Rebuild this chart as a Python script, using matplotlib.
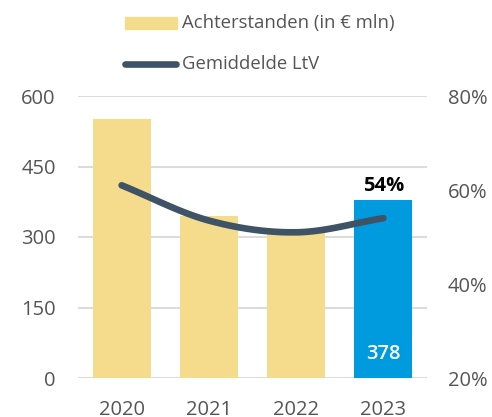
import numpy as np
import matplotlib
matplotlib.use("Agg")
import matplotlib.pyplot as plt
from matplotlib.patches import Rectangle
from matplotlib.lines import Line2D

years = ["2020", "2021", "2022", "2023"]
arrears = [551, 344, 310, 378]          # Achterstanden (in € mln)
ltv = [61, 53.5, 51, 54]                # Gemiddelde LtV (%)
left_ticks = [0, 150, 300, 450, 600]
right_ticks = [20, 40, 60, 80]

YELLOW = "#F5DC8C"
BLUE = "#009BDE"
LINE = "#3F5366"
GRID = "#DCDCDC"
TXT = "#555555"

plt.rcParams['font.family'] = ['Open Sans', 'DejaVu Sans']

fig = plt.figure(figsize=(4.92, 4.17), dpi=100)
ax = fig.add_axes([78/492, 39/417, (427-78)/492, (378-96)/417])
x = np.arange(len(years))
colors = [YELLOW] * (len(years) - 1) + [BLUE]
ax.bar(x, arrears, width=0.665, color=colors, zorder=2)
ax.set_xlim(-0.5, 3.5)
ax.set_ylim(0, 600)
ax.set_yticks(left_ticks)
ax.set_yticklabels([str(t) for t in left_ticks])
ax.set_xticks(x)
ax.set_xticklabels(years)
ax.grid(axis='y', color=GRID, linewidth=1.5, zorder=0)
for s in ax.spines.values():
    s.set_visible(False)
ax.tick_params(axis='both', length=0, labelsize=14.5, colors=TXT)
ax.tick_params(axis='y', pad=16)
ax.tick_params(axis='x', pad=16)

ax2 = ax.twinx()
ax2.set_ylim(20, 80)
ax2.set_yticks(right_ticks)
ax2.set_yticklabels([f"{t}%" for t in right_ticks])
for s in ax2.spines.values():
    s.set_visible(False)
ax2.tick_params(axis='y', length=0, labelsize=14.5, colors=TXT, pad=15)

# smooth curve (Catmull-Rom) through the LtV points
px = x.astype(float)
py = np.array(ltv, dtype=float)
P = np.vstack([px, py]).T
P = np.vstack([2*P[0]-P[1], P, 2*P[-1]-P[-2]])
cx, cy = [], []
for i in range(1, len(P) - 2):
    p0, p1, p2, p3 = P[i-1], P[i], P[i+1], P[i+2]
    t = np.linspace(0, 1, 40)[:, None]
    c = 0.5 * ((2*p1) + (-p0 + p2)*t + (2*p0 - 5*p1 + 4*p2 - p3)*t**2 + (-p0 + 3*p1 - 3*p2 + p3)*t**3)
    cx.extend(c[:, 0]); cy.extend(c[:, 1])
ax2.plot(cx, cy, color=LINE, linewidth=4.8, solid_capstyle='round', zorder=3)

ax.text(3, arrears[3] + 10, f"{ltv[3]:.0f}%", ha='center', va='bottom', fontsize=14.5,
        fontweight='bold', color='black')
ax.text(3, 52, f"{arrears[3]}", ha='center', va='center', fontsize=14.5,
        fontweight='semibold', color='white')

# legend
fig.patches.append(Rectangle((125/492, 1-29/417), 52/492, 12/417, transform=fig.transFigure,
                             color=YELLOW))
fig.text(182/492, 1-23/417, "Achterstanden (in € mln)", fontsize=13.3, color=TXT, va='center')
fig.lines.append(Line2D([125/492, 176/492], [1-64/417, 1-64/417], transform=fig.transFigure,
                        color=LINE, linewidth=4.8, solid_capstyle='round'))
fig.text(182/492, 1-64/417, "Gemiddelde LtV", fontsize=13.3, color=TXT, va='center')

fig.savefig("out.png", dpi=100)
